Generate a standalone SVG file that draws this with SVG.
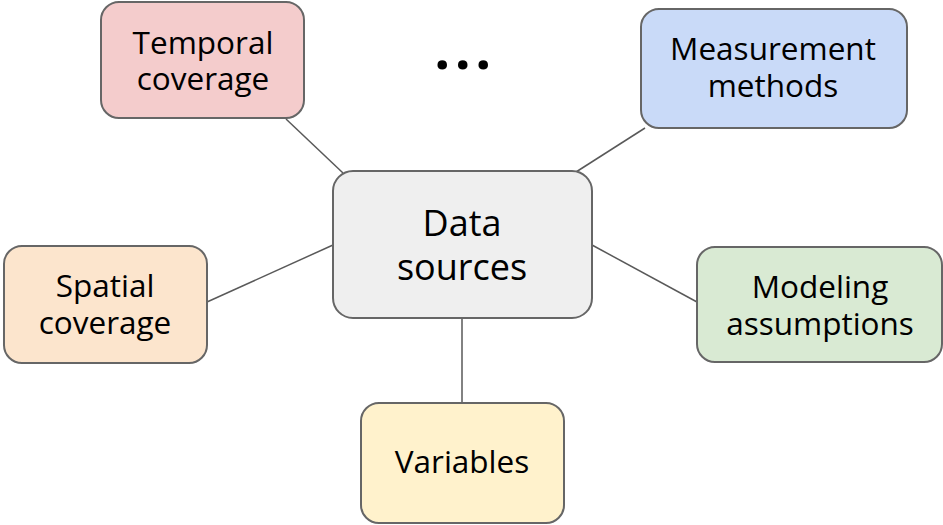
<svg xmlns="http://www.w3.org/2000/svg" width="943" height="525" viewBox="0 0 943 525">
  <style>
    .box { stroke: #666666; stroke-width: 2; }
    .lbl { font-family: "Open Sans", "Noto Sans", sans-serif; font-size: 31.5px; fill: #000000; text-anchor: middle; }
    .big { font-size: 36px; }
    .edge { stroke: #595959; stroke-width: 1.5; fill: none; }
  </style>
  <rect width="943" height="525" fill="#ffffff"/>

  <!-- connectors from the hub to each surrounding topic -->
  <g id="connectors">
    <line class="edge" x1="286" y1="119" x2="343" y2="173"/>
    <line class="edge" x1="645" y1="128" x2="576" y2="172"/>
    <line class="edge" x1="207" y1="302" x2="333" y2="245"/>
    <line class="edge" x1="592" y1="245" x2="697" y2="302"/>
    <line class="edge" x1="462" y1="318" x2="462" y2="403"/>
  </g>

  <g id="node-temporal">
    <rect class="box" x="101" y="2" width="203" height="116" rx="18" fill="#f4cccc"/>
    <text class="lbl"><tspan x="203" y="54">Temporal</tspan><tspan x="203" y="90">coverage</tspan></text>
  </g>

  <g id="node-measurement">
    <rect class="box" x="641" y="9" width="266" height="119" rx="18" fill="#c9daf8"/>
    <text class="lbl"><tspan x="773" y="60">Measurement</tspan><tspan x="773" y="97">methods</tspan></text>
  </g>

  <g id="node-data">
    <rect class="box" x="333" y="171" width="259" height="147" rx="20" fill="#efefef"/>
    <text class="lbl big"><tspan x="462" y="236">Data</tspan><tspan x="462" y="280">sources</tspan></text>
  </g>

  <g id="node-spatial">
    <rect class="box" x="4" y="246" width="203" height="117" rx="18" fill="#fce5cd"/>
    <text class="lbl"><tspan x="105" y="297">Spatial</tspan><tspan x="105" y="334">coverage</tspan></text>
  </g>

  <g id="node-modeling">
    <rect class="box" x="697" y="247" width="245" height="115" rx="18" fill="#d9ead3"/>
    <text class="lbl"><tspan x="820" y="298">Modeling</tspan><tspan x="820" y="335">assumptions</tspan></text>
  </g>

  <g id="node-variables">
    <rect class="box" x="361" y="403" width="203" height="120" rx="18" fill="#fff2cc"/>
    <text class="lbl" x="462" y="473">Variables</text>
  </g>

  <g id="ellipsis">
    <text x="465" y="69" font-family="'Open Sans', 'Noto Sans', sans-serif" font-weight="bold" font-size="56" letter-spacing="4.6" text-anchor="middle" fill="#000000">...</text>
  </g>
</svg>
